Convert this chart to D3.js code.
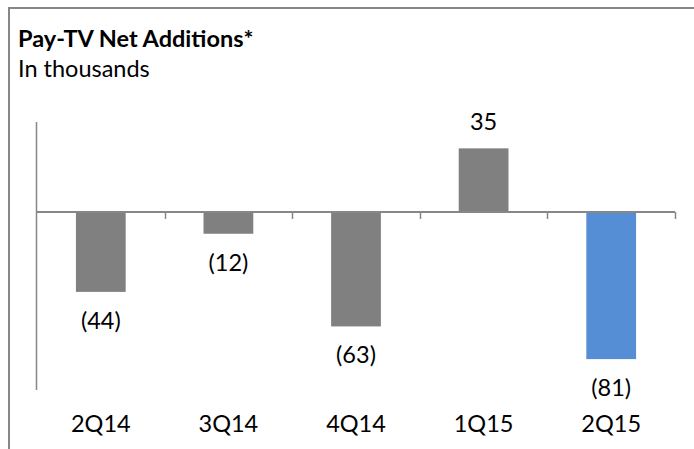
<!DOCTYPE html>
<html>
<head>
<meta charset="utf-8">
<script src="https://cdn.jsdelivr.net/npm/d3@7/dist/d3.min.js"></script>
<style>
  html, body { margin: 0; padding: 0; background: #fff; }
  svg { display: block; font-family: Lato, "Open Sans", sans-serif; }
</style>
</head>
<body>
<svg id="chart" width="694" height="449"></svg>
<script>
/* ── Data ──────────────────────────────────────────────────── */
const quarters = ['2Q14', '3Q14', '4Q14', '1Q15', '2Q15'];
const netAdds  = [-44, -12, -63, 35, -81];
const barLabels = ['(44)', '(12)', '(63)', '35', '(81)'];
const highlight = '2Q15';

const GRAY = '#808080';
const BLUE = '#558ed5';
const AXIS = '#878787';
const FS = 23.5;

const svg = d3.select('#chart');

/* ── Frame + titles ────────────────────────────────────────── */
svg.append('path')
  .attr('d', 'M9,449 V8 H694')
  .attr('fill', 'none')
  .attr('stroke', AXIS)
  .attr('stroke-width', 2);

svg.append('text')
  .attr('x', 18).attr('y', 47)
  .attr('font-size', FS).attr('font-weight', 700)
  .attr('fill', '#000')
  .text('Pay-TV Net Additions*');

svg.append('text')
  .attr('x', 18).attr('y', 77)
  .attr('font-size', FS)
  .attr('fill', '#000')
  .text('In thousands');

/* ── Scales ────────────────────────────────────────────────── */
const x = d3.scaleBand().domain(quarters).range([37, 675]).paddingInner(0.61).paddingOuter(0.305);
const y = d3.scaleLinear().domain([-98, 49.5]).range([390, 122]);

// vertical axis line (no ticks)
svg.append('line')
  .attr('x1', 36.5).attr('x2', 36.5)
  .attr('y1', y.range()[1]).attr('y2', y.range()[0])
  .attr('stroke', AXIS).attr('stroke-width', 1.5);

/* ── Bars ──────────────────────────────────────────────────── */
svg.append('g').selectAll('rect')
  .data(quarters)
  .join('rect')
  .attr('x', d => x(d))
  .attr('width', x.bandwidth())
  .attr('y', (d, i) => y(Math.max(0, netAdds[i])))
  .attr('height', (d, i) => Math.abs(y(netAdds[i]) - y(0)))
  .attr('fill', d => d === highlight ? BLUE : GRAY);

/* ── Zero axis with category ticks ─────────────────────────── */
const step = x.step();
const boundaries = d3.range(1, quarters.length + 1).map(i => 37 + step * i);

svg.append('line')
  .attr('x1', 37).attr('x2', 675)
  .attr('y1', y(0)).attr('y2', y(0))
  .attr('stroke', AXIS).attr('stroke-width', 2);

svg.append('g').selectAll('line')
  .data(boundaries)
  .join('line')
  .attr('x1', d => Math.round(d) + 0.5).attr('x2', d => Math.round(d) + 0.5)
  .attr('y1', y(0)).attr('y2', y(0) + 7)
  .attr('stroke', AXIS).attr('stroke-width', 1.5);

/* ── Value labels ──────────────────────────────────────────── */
svg.append('g').selectAll('text')
  .data(quarters)
  .join('text')
  .attr('x', d => x(d) + x.bandwidth() / 2)
  .attr('y', (d, i) => netAdds[i] < 0 ? y(netAdds[i]) + 37 : y(netAdds[i]) - 18)
  .attr('text-anchor', 'middle')
  .attr('font-size', FS)
  .attr('fill', '#000')
  .text((d, i) => barLabels[i]);

/* ── Category labels ───────────────────────────────────────── */
svg.append('g').selectAll('text')
  .data(quarters)
  .join('text')
  .attr('x', d => x(d) + x.bandwidth() / 2)
  .attr('y', 432)
  .attr('text-anchor', 'middle')
  .attr('font-size', FS)
  .attr('fill', '#000')
  .text(d => d);
</script>
</body>
</html>
